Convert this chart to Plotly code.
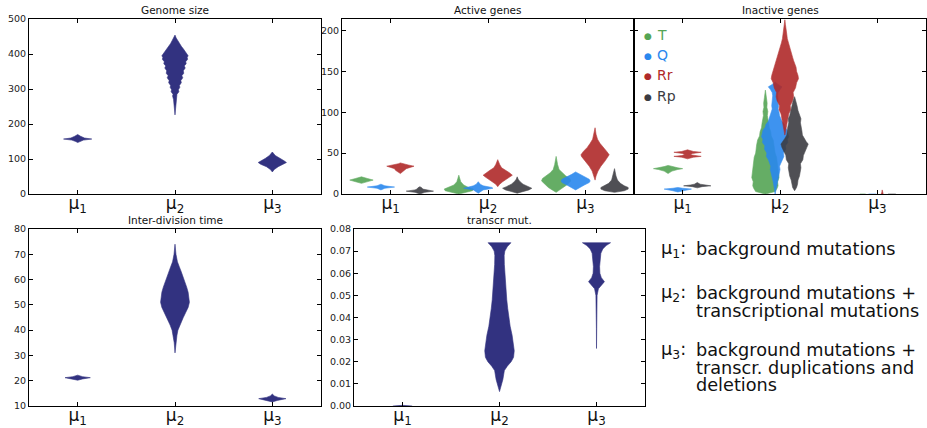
import plotly.graph_objects as go

# ---------------- data ----------------
categories = ["μ<sub>1</sub>", "μ<sub>2</sub>", "μ<sub>3</sub>"]
series_names = ["T", "Q", "Rr", "Rp"]
panel_titles = ["Genome size", "Active genes", "Inactive genes", "Inter-division time", "transcr mut."]

# Violin profiles: (value, half-width in category units)
genome_profiles = [
    [(147, 0), (150, 0.02), (154, 0.06), (157, 0.145), (160, 0.07), (165, 0.03), (170, 0)],
    [(226, 0), (240, 0.005), (255, 0.01), (270, 0.015), (280, 0.025), (285, 0.02), (292, 0.04),
     (298, 0.035), (305, 0.05), (310, 0.045), (318, 0.065), (324, 0.06), (332, 0.08), (338, 0.07),
     (345, 0.09), (352, 0.085), (360, 0.105), (366, 0.095), (372, 0.115), (378, 0.11), (385, 0.13),
     (390, 0.125), (395, 0.135), (400, 0.12), (408, 0.1), (415, 0.085), (422, 0.065), (430, 0.045),
     (438, 0.03), (446, 0.012), (454, 0)],
    [(63, 0), (70, 0.02), (78, 0.06), (85, 0.12), (90, 0.145), (95, 0.12), (102, 0.07), (110, 0.03), (120, 0)],
]

active_T = [
    [(13, 0), (15, 0.06), (17, 0.12), (19, 0.06), (21, 0)],
    [(0, 0), (2, 0.08), (4, 0.14), (6, 0.15), (8, 0.1), (11, 0.05), (15, 0.02), (19, 0.01), (23, 0)],
    [(2, 0), (5, 0.04), (8, 0.08), (12, 0.12), (16, 0.15), (19, 0.14), (22, 0.1), (26, 0.06),
     (30, 0.03), (36, 0.015), (46, 0)],
]
active_Q = [
    [(5, 0), (7, 0.04), (8.5, 0.14), (10, 0.04), (12, 0)],
    [(1, 0), (3, 0.02), (5, 0.05), (7, 0.15), (8, 0.14), (10, 0.05), (12, 0.02), (15, 0)],
    [(5, 0), (8, 0.04), (11, 0.09), (14, 0.14), (16, 0.15), (18, 0.14), (21, 0.09), (24, 0.04), (27, 0)],
]
active_Rr = [
    [(25, 0), (27, 0.02), (29, 0.05), (31, 0.06), (32.5, 0.1), (34, 0.14), (35.5, 0.08), (37, 0.02), (38, 0)],
    [(9, 0), (12, 0.02), (15, 0.05), (18, 0.09), (21, 0.13), (23, 0.15), (26, 0.12), (29, 0.08),
     (32, 0.04), (36, 0.02), (42, 0)],
    [(17, 0), (22, 0.01), (28, 0.03), (34, 0.06), (40, 0.1), (46, 0.14), (48, 0.145), (52, 0.12),
     (57, 0.08), (62, 0.05), (67, 0.025), (73, 0.01), (81, 0)],
]
active_Rp = [
    [(0, 0), (2, 0.05), (3.5, 0.14), (5, 0.05), (6, 0.03), (7.5, 0.02), (9, 0)],
    [(1, 0), (3, 0.06), (5, 0.12), (7, 0.15), (9, 0.11), (12, 0.06), (15, 0.03), (18, 0.01), (21, 0)],
    [(2, 0), (4, 0.1), (6, 0.14), (8, 0.14), (10, 0.1), (13, 0.06), (17, 0.03), (22, 0.015), (31, 0)],
]

inactive_T = [
    [(25, 0), (28, 0.04), (30, 0.1), (31, 0.15), (32, 0.1), (33.5, 0.04), (35, 0)],
    [(0, 0), (3, 0.1), (7, 0.12), (10, 0.13), (15, 0.125), (20, 0.14), (25, 0.135), (30, 0.13),
     (35, 0.125), (40, 0.12), (45, 0.115), (50, 0.1), (55, 0.095), (60, 0.09), (66, 0.08),
     (71, 0.06), (76, 0.055), (81, 0.04), (86, 0.035), (91, 0.03), (96, 0.02), (101, 0.025),
     (106, 0.015), (111, 0.018), (118, 0.01), (127, 0)],
    [(0, 0.03), (0.3, 0)],
]
inactive_Q = [
    [(2.5, 0), (4, 0.05), (6, 0.14), (7, 0.05), (8, 0)],
    [(0, 0), (3, 0.005), (8, 0.01), (15, 0.02), (22, 0.03), (30, 0.05), (34, 0.045), (38, 0.06),
     (42, 0.07), (46, 0.09), (50, 0.085), (55, 0.11), (59, 0.105), (63, 0.13), (67, 0.125),
     (70, 0.14), (74, 0.13), (78, 0.125), (82, 0.1), (85, 0.095), (89, 0.07), (92, 0.06),
     (96, 0.045), (100, 0.04), (104, 0.03), (108, 0.035), (112, 0.028), (116, 0.03), (120, 0.025),
     (124, 0.03), (128, 0.05), (131, 0.07), (134, 0.03), (137, 0)],
    [(0, 0.04), (0.3, 0)],
]
inactive_Rr = [
    [(43, 0), (45, 0.06), (46, 0.14), (47, 0.06), (48, 0.03), (49.5, 0.05), (51, 0.14), (52, 0.06), (54, 0)],
    [(72, 0), (80, 0.01), (86, 0.02), (92, 0.03), (98, 0.04), (103, 0.06), (108, 0.055), (114, 0.08),
     (119, 0.09), (124, 0.085), (130, 0.11), (136, 0.12), (141, 0.14), (145, 0.135), (150, 0.12),
     (155, 0.115), (159, 0.1), (163, 0.09), (167, 0.08), (171, 0.07), (176, 0.06), (180, 0.045),
     (185, 0.035), (190, 0.025), (195, 0.02), (200, 0.012), (207, 0.006), (213, 0)],
    [(0, 0.01), (2, 0.004), (5, 0)],
]
inactive_Rp = [
    [(7.5, 0), (9, 0.05), (10, 0.14), (11, 0.07), (12, 0.03), (14, 0)],
    [(4, 0), (8, 0.02), (12, 0.03), (17, 0.035), (22, 0.05), (27, 0.06), (32, 0.065), (37, 0.06),
     (42, 0.085), (47, 0.09), (52, 0.11), (57, 0.13), (61, 0.14), (64, 0.12), (68, 0.1), (72, 0.08),
     (77, 0.075), (82, 0.07), (87, 0.06), (92, 0.065), (96, 0.05), (102, 0.035), (108, 0.025),
     (114, 0.015), (119, 0)],
    [(0, 0.04), (0.3, 0)],
]

division_profiles = [
    [(20.2, 0), (20.7, 0.05), (21.2, 0.13), (21.6, 0.05), (22.2, 0)],
    [(31, 0), (35, 0.008), (38, 0.02), (40, 0.03), (42, 0.05), (44, 0.07), (45, 0.085), (47, 0.11),
     (49, 0.135), (51, 0.148), (53, 0.145), (55, 0.135), (57, 0.12), (60, 0.095), (63, 0.065),
     (65, 0.045), (67, 0.025), (70, 0.01), (74, 0)],
    [(11.6, 0), (12.2, 0.05), (12.9, 0.14), (13.4, 0.06), (14, 0.02), (14.7, 0)],
]

transcr_profiles = [
    [(0, 0.1), (0.0003, 0)],
    [(0.0065, 0), (0.009, 0.015), (0.012, 0.035), (0.016, 0.05), (0.018, 0.08), (0.020, 0.12),
     (0.022, 0.145), (0.025, 0.152), (0.028, 0.145), (0.032, 0.13), (0.036, 0.11), (0.040, 0.095),
     (0.044, 0.085), (0.048, 0.075), (0.052, 0.068), (0.056, 0.06), (0.060, 0.055), (0.064, 0.05),
     (0.068, 0.048), (0.070, 0.055), (0.072, 0.08), (0.0738, 0.118)],
    [(0.026, 0), (0.035, 0.001), (0.045, 0.003), (0.050, 0.006), (0.053, 0.02), (0.055, 0.06),
     (0.0562, 0.082), (0.058, 0.05), (0.060, 0.035), (0.063, 0.032), (0.066, 0.035), (0.069, 0.045),
     (0.071, 0.065), (0.0725, 0.1), (0.0738, 0.145)],
]

note_labels = ["μ<sub>1</sub>:", "μ<sub>2</sub>:", "μ<sub>3</sub>:"]
note_lines = [
    ["background mutations"],
    ["background mutations +", "transcriptional mutations"],
    ["background mutations +", "transcr. duplications and", "deletions"],
]

# ---------------- styling ----------------
W, H = 927, 428
FONT = "DejaVu Sans"
NAVY = "#323280"
series_colors = ["#55a555", "#2a88ee", "#b02a2a", "#3c3c42"]
active_offsets = [-0.3, -0.1, 0.1, 0.3]
inactive_offsets = [-0.15, -0.05, 0.05, 0.15]


def px_x(p):
    return p / W


def px_y(p):
    return 1 - p / H


fig = go.Figure()


def add_violin(xc, prof, color, ax, opacity=1.0):
    ys = [p[0] for p in prof]
    ws = [p[1] for p in prof]
    xs = [xc + w for w in ws] + [xc - w for w in reversed(ws)]
    yy = ys + ys[::-1]
    fig.add_trace(go.Scatter(
        x=xs, y=yy, mode="lines", fill="toself", fillcolor=color,
        line=dict(width=0.6, color=color), opacity=opacity,
        xaxis="x" + ("" if ax == 1 else str(ax)), yaxis="y" + ("" if ax == 1 else str(ax)),
        hoverinfo="skip", showlegend=False))


for i, prof in enumerate(genome_profiles):
    add_violin(i + 1, prof, NAVY, 1)

active_sets = [active_T, active_Q, active_Rr, active_Rp]
inactive_sets = [inactive_T, inactive_Q, inactive_Rr, inactive_Rp]
for s, (profs, col) in enumerate(zip(active_sets, series_colors)):
    for i, prof in enumerate(profs):
        add_violin(i + 1 + active_offsets[s], prof, col, 2, 0.9)
for s, (profs, col) in enumerate(zip(inactive_sets, series_colors)):
    for i, prof in enumerate(profs):
        add_violin(i + 1 + inactive_offsets[s], prof, col, 3, 0.9)
for i, prof in enumerate(division_profiles):
    add_violin(i + 1, prof, NAVY, 4)
for i, prof in enumerate(transcr_profiles):
    add_violin(i + 1, prof, NAVY, 5)

# axes geometry (pixels)
boxes = {
    1: (29, 321, 19, 194),
    2: (342, 634, 19, 194),
    3: (634, 926, 19, 194),
    4: (29, 321, 229, 406),
    5: (354, 645, 229, 406),
}
yranges = {1: [0, 500], 2: [0, 214], 3: [0, 214], 4: [10, 80], 5: [0, 0.08]}
ytickvals = {
    1: [0, 100, 200, 300, 400, 500],
    2: [0, 50, 100, 150, 200],
    3: [0, 50, 100, 150, 200],
    4: [10, 20, 30, 40, 50, 60, 70, 80],
    5: [0, 0.01, 0.02, 0.03, 0.04, 0.05, 0.06, 0.07, 0.08],
}

layout = dict(
    width=W, height=H, margin=dict(l=0, r=0, t=0, b=0, autoexpand=False),
    paper_bgcolor="white", plot_bgcolor="white",
    font=dict(family=FONT, color="#222222"),
    showlegend=False,
)
annotations = []
for k, (x0, x1, y0, y1) in boxes.items():
    sfx = "" if k == 1 else str(k)
    common = dict(showline=True, linecolor="black", linewidth=1, mirror="ticks",
                  ticks="inside", ticklen=4, tickcolor="black", tickwidth=1,
                  showgrid=False, zeroline=False, automargin=False)
    layout["xaxis" + sfx] = dict(
        domain=[px_x(x0), px_x(x1)], range=[0.5, 3.5], anchor="y" + sfx,
        tickvals=[1, 2, 3], ticktext=categories, ticklabelstandoff=-6,
        tickfont=dict(family=FONT, size=17, color="#111111"), **common)
    ya = dict(
        domain=[px_y(y1), px_y(y0)], range=yranges[k], anchor="x" + sfx,
        tickvals=ytickvals[k], tickfont=dict(family=FONT, size=9.5, color="#222222"), **common)
    if k == 5:
        ya["tickformat"] = ".2f"
    if k == 3:
        ya["matches"] = "y2"
        ya["showticklabels"] = False
    layout["yaxis" + sfx] = ya
    annotations.append(dict(
        text=panel_titles[k - 1], xref="paper", yref="paper",
        x=px_x((x0 + x1) / 2), y=px_y(y0 - 1), xanchor="center", yanchor="bottom",
        showarrow=False, font=dict(family=FONT, size=10.5, color="#111111")))

# legend (inside Inactive genes panel)
for s, (name, col) in enumerate(zip(series_names, series_colors)):
    yc = 35 + s * 20.2
    annotations.append(dict(text="●", xref="paper", yref="paper", x=px_x(648), y=px_y(yc + 1),
                            xanchor="center", yanchor="middle", showarrow=False,
                            font=dict(family=FONT, size=9, color=col)))
    annotations.append(dict(text=name, xref="paper", yref="paper", x=px_x(655), y=px_y(yc),
                            xanchor="left", yanchor="middle", showarrow=False,
                            font=dict(family=FONT, size=14, color=col)))

# explanatory notes
note_centers = [[249], [293, 311], [350, 368, 385]]
for lbl, lines, centers in zip(note_labels, note_lines, note_centers):
    annotations.append(dict(text=lbl, xref="paper", yref="paper", x=px_x(659), y=px_y(centers[0]),
                            xanchor="left", yanchor="middle", showarrow=False,
                            font=dict(family=FONT, size=17.7, color="#111111")))
    for line, yc in zip(lines, centers):
        annotations.append(dict(text=line, xref="paper", yref="paper", x=px_x(694), y=px_y(yc),
                                xanchor="left", yanchor="middle", showarrow=False,
                                font=dict(family=FONT, size=17.7, color="#111111")))

layout["annotations"] = annotations
fig.update_layout(**layout)
fig.write_html("out.html", config={"displayModeBar": False},
               post_script="document.body.style.margin='0px';document.body.style.overflow='hidden';")
